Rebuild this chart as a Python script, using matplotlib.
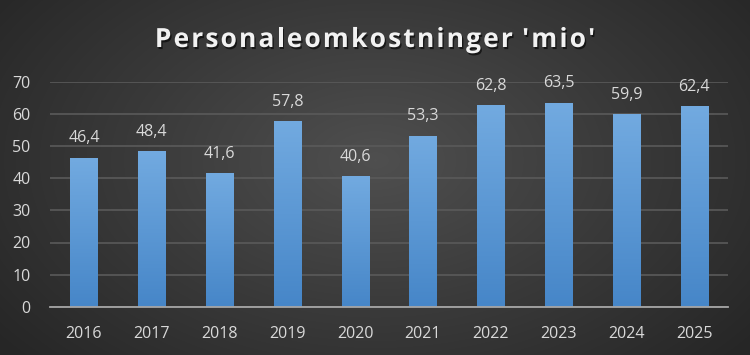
import numpy as np
import matplotlib.pyplot as plt
from matplotlib.colors import LinearSegmentedColormap
import matplotlib.patheffects as pe

years = ['2016', '2017', '2018', '2019', '2020', '2021', '2022', '2023', '2024', '2025']
values = [46.4, 48.4, 41.6, 57.8, 40.6, 53.3, 62.8, 63.5, 59.9, 62.4]
labels = ['46,4', '48,4', '41,6', '57,8', '40,6', '53,3', '62,8', '63,5', '59,9', '62,4']
yticks = [0, 10, 20, 30, 40, 50, 60, 70]
title = "Personaleomkostninger 'mio'"

plt.rcParams['font.family'] = ['Open Sans', 'DejaVu Sans']

fig = plt.figure(figsize=(7.5, 3.55), dpi=100)

# radial background
bg = fig.add_axes([0, 0, 1, 1])
yy, xx = np.mgrid[0:355, 0:750]
r = np.sqrt(((xx - 375) / 480.0) ** 2 + ((yy - 160) / 300.0) ** 2)
bg_cmap = LinearSegmentedColormap.from_list('bg', ['#4f4f4f', '#3a3a3a', '#262626'])
bg.imshow(np.clip(r, 0, 1), cmap=bg_cmap, aspect='auto', extent=[0, 1, 0, 1], vmin=0, vmax=1)
bg.axis('off')

ax = fig.add_axes([50 / 750, 1 - 306.7 / 355, 678 / 750, 224.7 / 355])
ax.patch.set_alpha(0)

x = np.arange(len(years))
bars = ax.bar(x, values, width=0.4, color='none', zorder=3)
bar_cmap = LinearSegmentedColormap.from_list('bar', ['#4686c8', '#72aae0'])
grad = np.linspace(0, 1, 256).reshape(-1, 1)
for b in bars:
    im = ax.imshow(grad, cmap=bar_cmap, origin='lower', aspect='auto',
                   extent=[b.get_x(), b.get_x() + b.get_width(), 0, b.get_height()], zorder=3)
    im.set_clip_path(b)

for xi, v, lab in zip(x, values, labels):
    ax.text(xi, v + 3.6, lab, ha='center', va='bottom', color='#d9d9d9', fontsize=11.5)

ax.set_xlim(-0.5, len(years) - 0.5)
ax.set_ylim(0, 70)
ax.set_yticks(yticks)
ax.set_xticks(x)
ax.set_xticklabels(years)
ax.tick_params(colors='#d9d9d9', labelsize=11.5, length=0)
ax.tick_params(axis='y', pad=14)
ax.tick_params(axis='x', pad=14)
ax.grid(axis='y', color='#5a5a5a', linewidth=1.2, zorder=0)
ax.set_axisbelow(True)
for s in ['top', 'right', 'left']:
    ax.spines[s].set_visible(False)
ax.spines['bottom'].set_color('#a6a6a6')
ax.spines['bottom'].set_linewidth(1.3)
ax.spines['bottom'].set_zorder(4)

# title with letter spacing, drawn char by char
renderer = fig.canvas.get_renderer()
spacing = 2.2
fsize = 19
shadow = [pe.withSimplePatchShadow(offset=(1, -1.5), shadow_rgbFace='black', alpha=0.6)]
chars = []
widths = []
for ch in title:
    t = fig.text(0, 0, ch, fontsize=fsize, fontweight='bold', color='#f2f2f2',
                 ha='left', va='baseline', path_effects=shadow)
    if ch == ' ':
        w = fsize * 0.26
    else:
        w = t.get_window_extent(renderer).width
    chars.append(t)
    widths.append(w)
total = sum(widths) + spacing * (len(title) - 1)
xpos = 375 - total / 2
for t, w in zip(chars, widths):
    t.set_position((xpos / 750, 1 - 47 / 355))
    xpos += w + spacing

fig.savefig('out.png', dpi=100)
